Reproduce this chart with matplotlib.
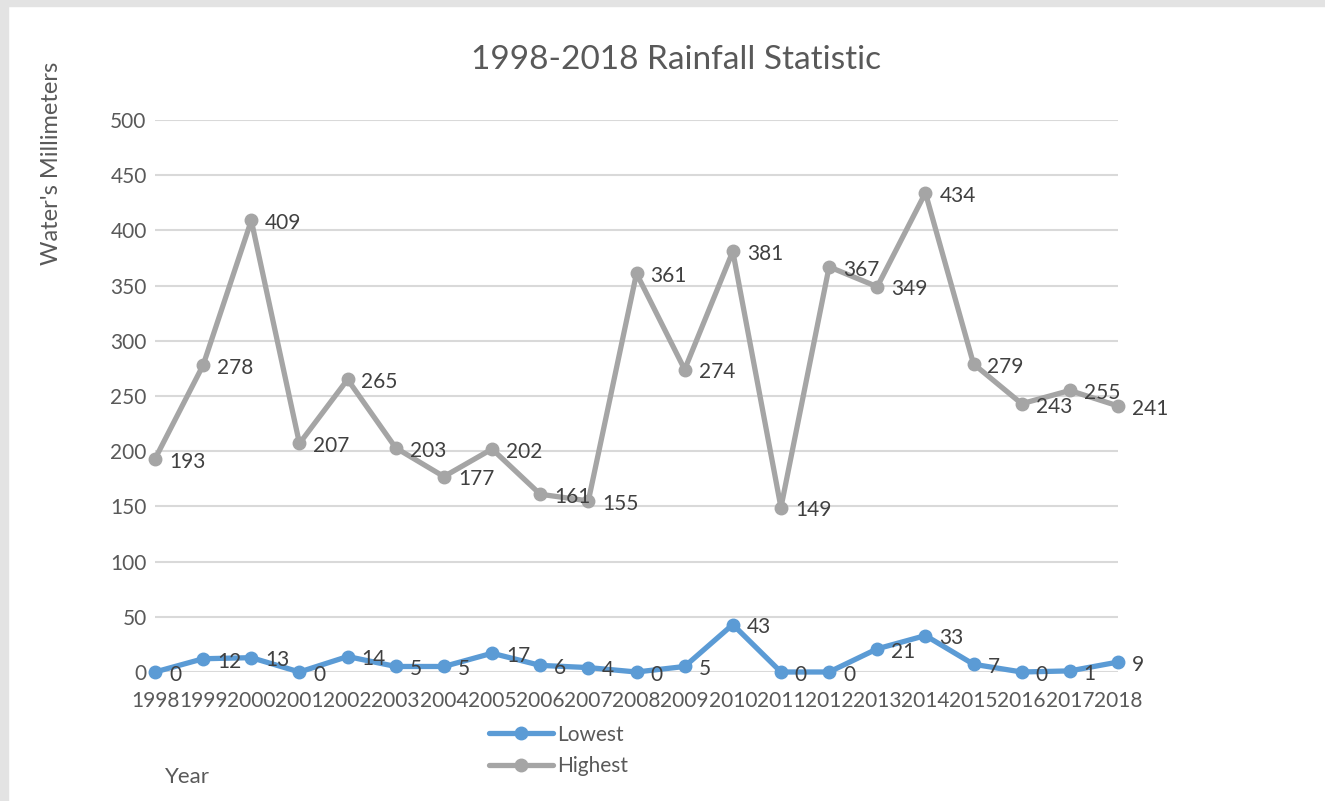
import matplotlib.pyplot as plt
from matplotlib.patches import Rectangle

plt.rcParams['font.family'] = ['Lato', 'DejaVu Sans']

years = list(range(1998, 2019))
lowest = [0, 12, 13, 0, 14, 5, 5, 17, 6, 4, 0, 5, 43, 0, 0, 21, 33, 7, 0, 1, 9]
highest = [193, 278, 409, 207, 265, 203, 177, 202, 161, 155, 361,
           274, 381, 149, 367, 349, 434, 279, 243, 255, 241]

blue = "#5B9BD5"
gray = "#A5A5A5"
txt = "#595959"
lab = "#404040"

fig = plt.figure(figsize=(13.25, 8.01), dpi=100)
ax = fig.add_axes([155 / 1325, 1 - 672 / 801, (1118 - 155) / 1325, (672 - 120) / 801])

l1, = ax.plot(years, lowest, color=blue, lw=3.8, marker="o", ms=9, label="Lowest",
              solid_capstyle="round", zorder=3, clip_on=False)
l2, = ax.plot(years, highest, color=gray, lw=3.8, marker="o", ms=9, label="Highest",
              solid_capstyle="round", zorder=3, clip_on=False)

# data labels to the right of each point
for series in (lowest, highest):
    for x, y in zip(years, series):
        ax.annotate(str(y), (x, y), xytext=(10, -2), textcoords="offset points",
                    ha="left", va="center", fontsize=15, color=lab, zorder=4)

ax.set_xlim(1998, 2018)
ax.set_ylim(0, 500)
ax.set_yticks(range(0, 501, 50))
ax.set_xticks(years)
ax.set_xticklabels([str(y) for y in years])
ax.yaxis.grid(True, color="#D9D9D9", lw=1.5)
ax.set_axisbelow(True)
for s in ax.spines.values():
    s.set_visible(False)
ax.tick_params(length=0, labelsize=15, colors=txt)
ax.tick_params(axis="x", pad=14)
ax.tick_params(axis="y", pad=6)

fig.text(676 / 1325, 1 - 60 / 801, "1998-2018 Rainfall Statistic",
         ha="center", va="center", fontsize=24, color=txt)
fig.text(52 / 1325, 1 - 163 / 801, "Water's Millimeters", rotation=90,
         ha="center", va="center", fontsize=17, color=txt)
fig.text(165 / 1325, 1 - 777 / 801, "Year", ha="left", va="center",
         fontsize=16, color=txt)

fig.legend(handles=[l1, l2], loc="upper left",
           bbox_to_anchor=(470 / 1325, 1 - 706 / 801), frameon=False,
           fontsize=15, labelcolor=txt, handlelength=3.1, handletextpad=0.2,
           labelspacing=0.55)

# screenshot frame
fig.patches.append(Rectangle((0, 0), 8 / 1325, 1, transform=fig.transFigure,
                             color="#E3E3E3", zorder=0))
fig.patches.append(Rectangle((0, 1 - 6 / 801), 1, 6 / 801, transform=fig.transFigure,
                             color="#E3E3E3", zorder=0))

fig.savefig("out.png", dpi=100)
